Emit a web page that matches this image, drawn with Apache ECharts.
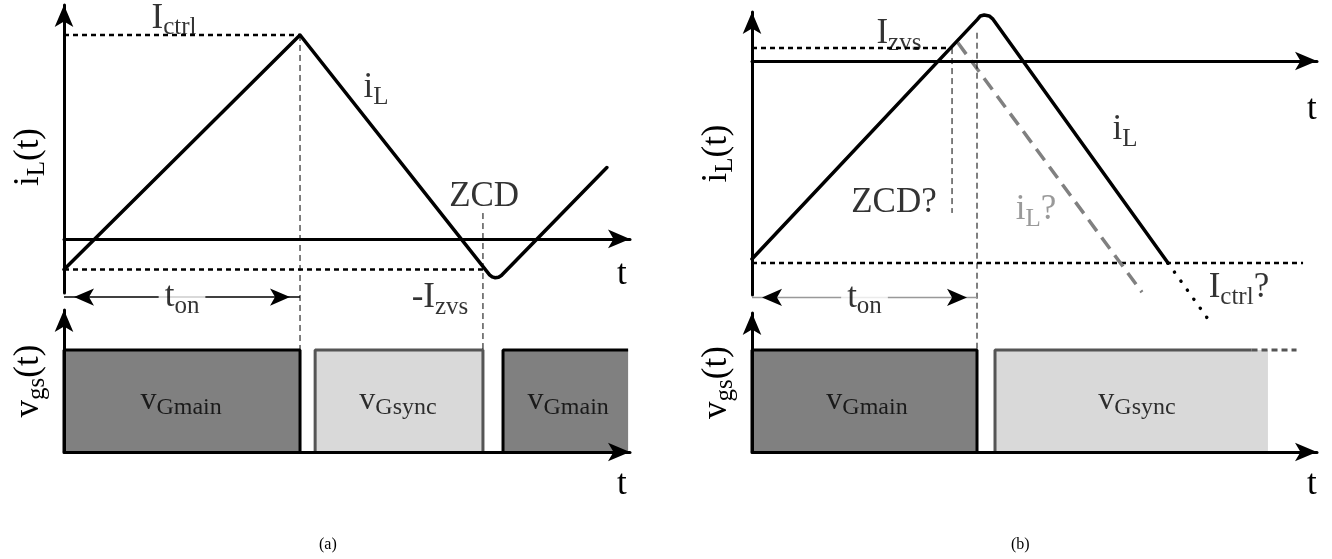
<!DOCTYPE html>
<html>
<head>
<meta charset="UTF-8" />
<title>i_L and v_gs waveforms</title>
<script src="https://cdn.jsdelivr.net/npm/echarts@6/dist/echarts.min.js"></script>
<style>
  body { margin: 0; padding: 0; background: #fff; }
  #main { width: 1332px; height: 559px; }
</style>
</head>
<body>
<div id="main"></div>
<script type="text/javascript">
// time in units of t_on, current in units of the control level, gate high = 1

// ---- panel (a) ----
var iLA = [[0, -0.15], [1, 1], [1.803, -0.176], [1.814, -0.186], [1.827, -0.19], [1.841, -0.188], [1.853, -0.179], [2.3, 0.35]];
var ctrlA = 1.0;          // I_ctrl
var zvsA = -0.15;         // -I_zvs
var zcdA = 1.775;         // ZCD instant
var zcdTopA = 0.127;
var mainA = [[0, 1.0], [1.86, 2.39]];
var syncA = [[1.064, 1.775]];
var labelsA = [
  [0.466, 1.08, '{m|I}{s|ctrl}'],
  [1.322, 0.74, '{m|i}{s|L}'],
  [1.78, 0.206, '{m|ZCD}'],
  [1.593, -0.29, '{m|-I}{s|zvs}']
];
var gateLabelsA = [[0.496, 0.5, 'Gmain'], [1.415, 0.5, 'Gsync'], [2.136, 0.5, 'Gmain']];

// ---- panel (b) ----
var iLB = [[0, -0.98], [1.002, 0.206], [1.015, 0.223], [1.032, 0.228], [1.054, 0.223], [1.071, 0.207], [1.849, -1.0]];
var iLB_dotted = [[1.849, -1.0], [2.036, -1.292]];
var iLB_guess = [[0.915, 0.09], [1.733, -1.144]];
var zvsB = 0.064;         // I_zvs
var ctrlB = -1.0;         // I_ctrl?
var zcdB = 0.889;         // ZCD?
var zcdBottomB = -0.752;
var tonTopB = 0.14;
var mainB = [[0, 1.0]];
var syncB = [1.08, 2.293];
var syncBorderB = [2.22, 2.42];
var labelsB = [
  [0.653, 0.134, '{m|I}{s|zvs}'],
  [0.631, -0.703, '{m|ZCD?}'],
  [1.658, -0.342, '{m|i}{s|L}'],
  [1.262, -0.738, '{gm|i}{gs|L}{gm|?}'],
  [2.164, -1.124, '{m|I}{s|ctrl}{m|?}']
];
var gateLabelsB = [[0.511, 0.5, 'Gmain'], [1.711, 0.5, 'Gsync']];

var ton = 1.0;
var tonArrowA = -0.285;
var tonArrowB = -1.17;
var gateHigh = 1;

var SERIF = 'Liberation Serif';
function txt(size, color, pad) {
  return { fontFamily: SERIF, fontSize: size, color: color, verticalAlign: 'middle', padding: pad || 0 };
}
var rich = {
  m: txt(35, '#000'), s: txt(25, '#000', [18, 0, 0, 0]),
  gm: txt(35, '#808080'), gs: txt(25, '#808080', [18, 0, 0, 0]),
  v: txt(32, '#000'), vs: txt(24, '#000', [14, 0, 0, 0])
};

var chart = echarts.init(document.getElementById('main'));

var axisLine = { lineStyle: { color: '#000', width: 3 }, symbol: ['none', 'arrow'], symbolSize: [14, 22] };
function xAx(gi, max, gap, pad) {
  return {
    gridIndex: gi, type: 'value', min: 0, max: max, z: 5,
    axisLine: Object.assign({ onZero: true }, axisLine),
    axisTick: { show: false }, axisLabel: { show: false }, splitLine: { show: false },
    name: 't', nameLocation: 'end', nameGap: gap,
    nameTextStyle: { fontFamily: SERIF, fontSize: 35, color: '#000', verticalAlign: 'top', padding: [pad, 0, 0, 0] }
  };
}
function yAx(gi, min, max, name, shift) {
  return {
    gridIndex: gi, type: 'value', min: min, max: max, z: 5,
    axisLine: axisLine,
    axisTick: { show: false }, axisLabel: { show: false }, splitLine: { show: false },
    name: name, nameLocation: 'middle', nameRotate: 90, nameGap: 14,
    nameTextStyle: { rich: rich, padding: [0, shift || 0, 0, 0] }
  };
}

function line(gi, data, style, extra) {
  return Object.assign({
    type: 'line', xAxisIndex: gi, yAxisIndex: gi, data: data, symbol: 'none',
    clip: false, silent: true, z: 3, lineStyle: style
  }, extra || {});
}
var solid = { color: '#000', width: 3.5, join: 'round', cap: 'round' };
var thickDash = { color: '#000', width: 2.5, type: [5, 4] };
var thinDash = { color: '#000', width: 1, type: [6, 4] };

function rect(gi, a, b, fill, border, closed) {
  var pts = [[a, 0], [a, gateHigh], [b, gateHigh]];
  if (closed) pts.push([b, 0]);
  return line(gi, pts, { color: border, width: 3 }, { areaStyle: { color: fill, opacity: 1 }, z: 2 });
}
function span(gi, y, color) {
  return line(gi, [
    { value: [0, y], symbol: 'arrow', symbolRotate: 90, symbolOffset: [10, 0] },
    { value: [ton, y], symbol: 'arrow', symbolRotate: -90, symbolOffset: [-10, 0] }
  ], { color: color, width: 1.5 }, { symbol: 'arrow', symbolSize: [13, 20], showSymbol: true, itemStyle: { color: '#000' }, z: 6 });
}
function labels(gi, list, bg) {
  return {
    type: 'scatter', xAxisIndex: gi, yAxisIndex: gi, symbolSize: 0, clip: false, silent: true, z: 10,
    data: list.map(function (l) { return { value: [l[0], l[1]], name: l[2] }; }),
    label: { show: true, position: 'inside', formatter: function (p) { return p.name; }, rich: rich,
      backgroundColor: bg || 'transparent', padding: bg ? [0, 6] : 0 }
  };
}
function gateLabels(gi, list) {
  return labels(gi, list.map(function (l) { return [l[0], l[1], '{v|v}{vs|' + l[2] + '}']; }));
}

var series = [
  // panel (a) current
  line(0, [[0, ctrlA], [ton, ctrlA]], thickDash),
  line(0, [[0, zvsA], [zcdA, zvsA]], thickDash),
  line(0, iLA, solid),
  span(0, tonArrowA, '#000'),
  labels(0, labelsA),
  labels(0, [[ton / 2, tonArrowA, '{m|t}{s|on}']], '#fff'),
  // panel (a) gate
  rect(1, mainA[0][0], mainA[0][1], '#808080', '#000', true),
  rect(1, syncA[0][0], syncA[0][1], '#d9d9d9', '#555', true),
  rect(1, mainA[1][0], mainA[1][1], '#808080', '#000', false),
  gateLabels(1, gateLabelsA),
  // panel (b) current
  line(2, [[0, zvsB], [zcdB, zvsB]], thickDash),
  line(2, [[0, ctrlB], [2.449, ctrlB]], thickDash),
  line(2, iLB_guess, { color: '#808080', width: 3.5, type: [14, 8] }),
  line(2, iLB, solid),
  line(2, iLB_dotted, { color: '#000', width: 3.5, type: [0.1, 11], cap: 'round' }),
  line(2, [[zcdB, zvsB], [zcdB, zcdBottomB]], thinDash),
  span(2, tonArrowB, '#999'),
  labels(2, labelsB),
  labels(2, [[ton / 2, tonArrowB, '{m|t}{s|on}']], '#fff'),
  // panel (b) gate
  rect(3, mainB[0][0], mainB[0][1], '#808080', '#000', true),
  line(3, [[syncB[0], 0], [syncB[0], gateHigh], [syncB[1], gateHigh]], { width: 0, opacity: 0 }, { areaStyle: { color: '#d9d9d9', opacity: 1 }, z: 2 }),
  line(3, [[syncB[0], 0], [syncB[0], gateHigh], [syncBorderB[0], gateHigh]], { color: '#555', width: 3 }),
  line(3, [[syncBorderB[0], gateHigh], [syncBorderB[1], gateHigh]], { color: '#555', width: 3, type: [6, 4] }),
  gateLabels(3, gateLabelsB)
];

var option = {
  animation: false,
  backgroundColor: '#fff',
  title: [
    { text: '(a)', left: 314, top: 532, textStyle: { fontFamily: SERIF, fontSize: 16, fontWeight: 'normal', color: '#000' } },
    { text: '(b)', left: 1006, top: 532, textStyle: { fontFamily: SERIF, fontSize: 16, fontWeight: 'normal', color: '#000' } }
  ],
  grid: [
    { left: 64, top: 5, width: 566, height: 288 },
    { left: 64, top: 310, width: 566, height: 142 },
    { left: 752, top: 12, width: 565, height: 283 },
    { left: 752, top: 313, width: 565, height: 139 }
  ],
  xAxis: [xAx(0, 2.398, -13, 18), xAx(1, 2.398, -13, 15), xAx(2, 2.511, -10, 31), xAx(3, 2.511, -10, 15)],
  yAxis: [
    yAx(0, -0.265, 1.147, '{m|i}{s|L}{m|(t)}', 16),
    yAx(1, 0, 1.392, '{m|v}{s|gs}{m|(t)}'),
    yAx(2, -1.158, 0.2426, '{m|i}{s|L}{m|(t)}'),
    yAx(3, 0, 1.363, '{m|v}{s|gs}{m|(t)}')
  ],
  series: series
};
chart.setOption(option);

// dashed markers that run down from the current plot to the top of the gate pulses
function gateTopInCurrent(top, bottom, t) {
  var px = chart.convertToPixel({ gridIndex: bottom }, [t, gateHigh]);
  return chart.convertFromPixel({ gridIndex: top }, px)[1];
}
chart.setOption({
  series: series.concat([
    line(0, [[ton, ctrlA], [ton, gateTopInCurrent(0, 1, ton)]], thinDash),
    line(0, [[zcdA, zcdTopA], [zcdA, gateTopInCurrent(0, 1, zcdA)]], thinDash),
    line(2, [[ton, tonTopB], [ton, gateTopInCurrent(2, 3, ton)]], thinDash)
  ])
});
</script>
</body>
</html>
